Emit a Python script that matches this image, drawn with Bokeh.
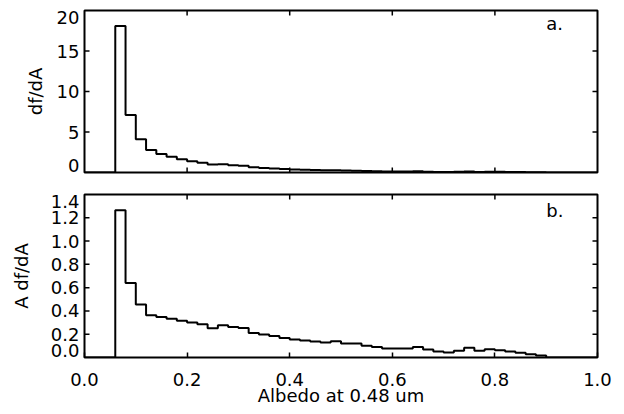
import math
from bokeh.plotting import figure
from bokeh.models import LinearAxis, FixedTicker, Range1d, Label
from bokeh.layouts import column
from bokeh.embed import file_html
from bokeh.resources import INLINE

# ---- data ----
bin_left = [0.06, 0.08, 0.10, 0.12, 0.14, 0.16, 0.18, 0.20, 0.22, 0.24,
            0.26, 0.28, 0.30, 0.32, 0.34, 0.36, 0.38, 0.40, 0.42, 0.44,
            0.46, 0.48, 0.50, 0.52, 0.54, 0.56, 0.58, 0.60, 0.62, 0.64,
            0.66, 0.68, 0.70, 0.72, 0.74, 0.76, 0.78, 0.80, 0.82, 0.84,
            0.86, 0.88]
bin_width = 0.02

dfda = [18.1, 7.1, 4.12, 2.78, 2.28, 1.93, 1.64, 1.38, 1.20, 0.98,
        1.02, 0.88, 0.82, 0.64, 0.56, 0.50, 0.43, 0.38, 0.34, 0.30,
        0.27, 0.29, 0.24, 0.23, 0.18, 0.16, 0.13, 0.13, 0.12, 0.14,
        0.10, 0.07, 0.06, 0.08, 0.11, 0.07, 0.09, 0.08, 0.06, 0.05,
        0.03, 0.02]

a_dfda = [1.265, 0.640, 0.455, 0.363, 0.348, 0.333, 0.315, 0.300, 0.285, 0.252,
          0.278, 0.262, 0.254, 0.211, 0.197, 0.185, 0.168, 0.154, 0.146, 0.137,
          0.129, 0.140, 0.120, 0.120, 0.100, 0.091, 0.077, 0.077, 0.077, 0.091,
          0.069, 0.051, 0.043, 0.057, 0.083, 0.057, 0.071, 0.063, 0.051, 0.040,
          0.028, 0.017]

x_ticks = [0.0, 0.2, 0.4, 0.6, 0.8, 1.0]
x_tick_labels = ["0.0", "0.2", "0.4", "0.6", "0.8", "1.0"]
top_y_ticks = [0, 5, 10, 15, 20]
top_y_labels = ["0", "5", "10", "15", "20"]
bot_y_ticks = [0.0, 0.2, 0.4, 0.6, 0.8, 1.0, 1.2, 1.4]
bot_y_labels = ["0.0", "0.2", "0.4", "0.6", "0.8", "1.0", "1.2", "1.4"]

FONT = "DejaVu Sans"
FSIZE = "18px"
TICK_LEN = 5
LABEL_STANDOFF = 5
END_NUDGE_PX = 7


def step_xy(vals):
    xs = [0.0] + bin_left + [bin_left[-1] + bin_width, 1.0]
    ys = [0.0] + list(vals) + [0.0, 0.0]
    return xs, ys


def styled_axis(ticks, labels, standoff, tick_in):
    ax = LinearAxis(ticker=FixedTicker(ticks=ticks))
    ax.major_label_overrides = {t: l for t, l in zip(ticks, labels)}
    ax.major_tick_in = tick_in
    ax.major_tick_out = 0
    ax.minor_tick_in = 0
    ax.minor_tick_out = 0
    ax.major_tick_line_width = 1.5
    ax.major_tick_line_color = "black" if tick_in else None
    ax.axis_line_color = None
    ax.major_label_text_font = FONT
    ax.major_label_text_font_size = FSIZE
    ax.major_label_text_color = "black"
    ax.major_label_standoff = standoff
    ax.axis_label_text_font = FONT
    ax.axis_label_text_font_size = FSIZE
    ax.axis_label_text_font_style = "normal"
    ax.axis_label_text_color = "black"
    return ax


def edge_ticks(p, y_end, yticks, bottom_edge):
    # inward tick marks (half of each dash is clipped by the frame)
    inner_x = x_ticks[1:-1]
    inner_y = yticks[1:-1]
    p.scatter(inner_x, [y_end] * len(inner_x), marker="dash", size=2 * TICK_LEN,
              angle=math.pi / 2, line_color="black", line_width=1.5)
    if bottom_edge:
        p.scatter(inner_x, [0] * len(inner_x), marker="dash", size=2 * TICK_LEN,
                  angle=math.pi / 2, line_color="black", line_width=1.5)
    for xe in (0.0, 1.0):
        p.scatter([xe] * len(inner_y), inner_y, marker="dash", size=2 * TICK_LEN,
                  line_color="black", line_width=1.5)


def make_panel(height, y_end, yticks, ylabels, ylabel, ylabel_standoff, vals,
               show_x, top_b, bot_b, tag, tag_y):
    frame_h = height - top_b - bot_b
    p = figure(width=624, height=height, output_backend="svg", toolbar_location=None,
               x_range=Range1d(0, 1), y_range=Range1d(0, y_end),
               x_axis_location=None, y_axis_location=None,
               min_border_left=84, min_border_right=27,
               min_border_top=top_b, min_border_bottom=bot_b)
    p.grid.visible = False
    p.outline_line_color = "black"
    p.outline_line_width = 2
    p.outline_line_alpha = 1.0
    p.background_fill_color = "white"
    p.border_fill_color = "white"

    # label positions: the two end labels sit a few pixels inside the axis extent
    nudge = END_NUDGE_PX * y_end / frame_h
    label_pos = list(yticks)
    label_pos[0] = yticks[0] + nudge
    label_pos[-1] = yticks[-1] - nudge
    left = styled_axis(label_pos, ylabels, LABEL_STANDOFF, 0)
    left.axis_label = ylabel
    left.axis_label_standoff = ylabel_standoff
    p.add_layout(left, "left")

    if show_x:
        below = styled_axis(x_ticks, x_tick_labels, 15, TICK_LEN)
        below.axis_label = "Albedo at 0.48 um"
        below.axis_label_standoff = -4
        p.add_layout(below, "below")

    xs, ys = step_xy(vals)
    p.step(xs, ys, mode="after", line_color="black", line_width=2)
    edge_ticks(p, y_end, yticks, not show_x)

    p.add_layout(Label(x=0.9, y=y_end, y_offset=tag_y, text=tag, text_font=FONT,
                       text_font_size=FSIZE, text_color="black",
                       text_align="left", text_baseline="top"))
    return p


p1 = make_panel(183, 20, top_y_ticks, top_y_labels, "df/dA", 8, dfda,
                False, 10, 11, "a.", -2)
p2 = make_panel(231, 1.4, bot_y_ticks, bot_y_labels, "A df/dA", 16, a_dfda,
                True, 11, 57, "b.", -5)

layout = column(p1, p2, spacing=0)
open("out.html", "w").write(file_html(layout, INLINE))
